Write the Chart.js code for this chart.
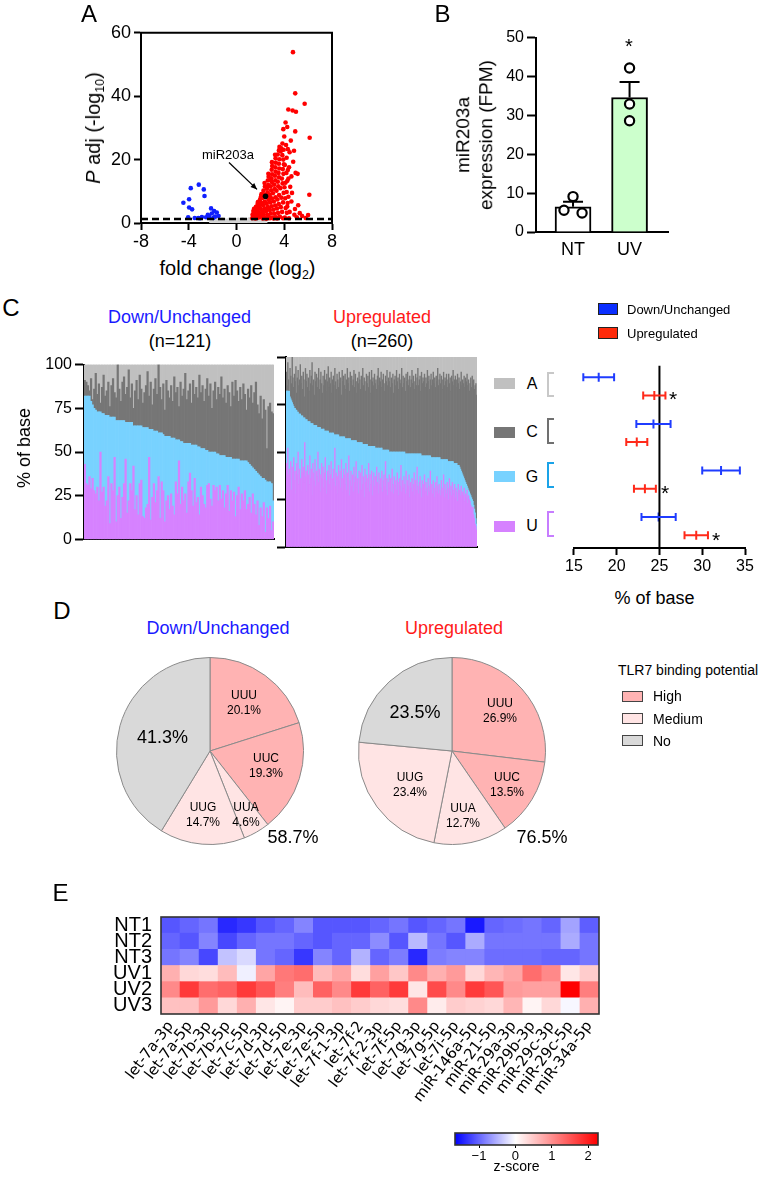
<!DOCTYPE html>
<html><head><meta charset="utf-8">
<script src="https://cdn.jsdelivr.net/npm/chart.js@4.4.1/dist/chart.umd.min.js"></script>
<style>
html,body{margin:0;padding:0;background:#fff;}
body{width:772px;height:1180px;position:relative;overflow:hidden;font-family:"Liberation Sans",Arial,sans-serif;color:#000;}
.sb{font-size:0.62em;position:relative;top:0.32em;}
</style></head><body>
<script>
// ---------------- DATA ----------------
// Panel A: volcano
const nsPts = [[-1.95,0.9],[-1.8,0.5],[-1.6,1.0],[-1.5,0.3],[-1.35,0.7],[-1.2,1.1],[-1.1,0.4],[-0.95,0.8],[-0.85,0.2],[-0.7,0.6],[-0.6,1.0],[-0.5,0.3],[-0.4,0.7],[-0.3,0.1],[-0.2,0.5],[-0.1,0.9],[0.0,0.3],[0.1,0.6],[0.2,0.2],[0.3,0.8],[0.4,0.4],[0.5,1.1],[0.6,0.2],[0.7,0.6],[0.8,0.9],[0.9,0.3],[1.0,0.7],[1.1,1.2],[1.2,0.4],[1.3,0.8],[1.4,0.2],[1.5,0.6],[1.6,1.0],[1.7,0.3],[1.8,0.7],[1.95,0.5],[2.1,0.9],[2.25,0.4],[-0.8,0.05],[0.35,0.05],[-1.7,0.15],[1.15,0.1],[-0.25,0.4],[0.75,0.3],[0.15,1.0],[-1.25,0.35],[2.4,0.2],[-2.1,0.3]];
const downPts = [[-4.45,6.4],[-3.83,11.0],[-3.16,12.1],[-2.74,10.6],[-2.68,8.5],[-3.97,7.5],[-3.97,4.9],[-3.72,4.3],[-4.05,1.8],[-3.2,1.6],[-2.13,4.6],[-1.87,3.75],[-2.07,3.0],[-1.65,3.3],[-1.5,2.2],[-2.55,1.8],[-3.5,1.6],[-2.9,1.9],[-2.3,2.0],[-1.95,1.6],[-2.4,2.6],[-1.8,2.0],[-3.05,1.5]];
const upPts = [[4.73,53.9],[4.92,40.9],[5.71,37.6],[4.34,35.8],[4.70,35.5],[4.98,35.1],[4.11,31.7],[4.25,30.3],[3.92,29.6],[4.92,28.9],[6.13,26.9],[4.0,27.3],[4.55,26.0],[3.85,25.1],[4.15,24.6],[3.6,24.0],[3.75,23.6],[4.3,23.3],[4.82,22.8],[4.45,22.3],[3.95,23.1],[3.55,22.9],[4.75,19.3],[5.12,15.5],[4.95,15.8],[6.1,8.9],[5.17,5.6],[6.0,2.5],[5.8,1.6],[5.5,2.2],[5.3,3.1],[4.9,4.4],[4.6,6.8],[4.35,8.3],[4.5,11.4],[4.6,14.7],[4.4,17.6],[4.2,20.6],[4.05,18.3],[4.65,9.5],[4.85,2.6],[5.05,1.8],[4.45,3.5],[4.25,5.2],[4.1,12.7],[4.35,14.0],
[1.32,1.5],[1.38,2.3],[1.45,3.0],[1.41,3.8],[1.48,1.9],[1.35,2.7],[1.47,4.5],
[1.52,1.6],[1.66,2.4],[1.58,3.3],[1.72,4.2],[1.63,5.1],[1.77,6.0],[1.55,2.0],[1.69,3.7],[1.75,4.8],[1.79,6.6],
[1.84,1.7],[1.97,2.5],[1.88,3.4],[2.03,4.4],[1.92,5.3],[2.07,6.3],[1.95,7.2],[2.05,8.3],[2.09,9.1],[1.82,2.9],[1.99,5.8],[2.01,7.7],
[2.13,1.8],[2.28,2.6],[2.19,3.6],[2.34,4.6],[2.24,5.7],[2.37,6.8],[2.16,7.9],[2.31,9.0],[2.26,10.2],[2.38,11.5],[2.35,12.6],[2.21,3.1],[2.29,8.5],[2.12,6.2],
[2.42,1.6],[2.58,2.7],[2.49,3.8],[2.63,5.0],[2.53,6.1],[2.68,7.3],[2.45,8.4],[2.6,9.6],[2.55,10.8],[2.66,12.0],[2.62,13.4],[2.69,14.6],[2.67,15.5],[2.51,4.4],[2.57,11.3],
[2.72,1.9],[2.88,3.0],[2.79,4.1],[2.94,5.3],[2.83,6.5],[2.97,7.7],[2.75,9.0],[2.9,10.3],[2.86,11.6],[2.96,12.9],[2.92,14.1],[2.98,15.4],[2.95,16.8],[2.99,18.0],[2.97,19.2],[2.81,8.3],[2.89,13.5],
[3.02,1.7],[3.18,2.9],[3.09,4.2],[3.24,5.5],[3.13,6.8],[3.27,8.1],[3.05,9.4],[3.2,10.7],[3.16,12.1],[3.26,13.5],[3.22,14.9],[3.28,16.2],[3.25,17.6],[3.29,19.0],[3.27,20.4],[3.23,21.5],
[3.32,1.8],[3.48,3.2],[3.39,4.6],[3.54,6.0],[3.43,7.4],[3.57,8.8],[3.35,10.2],[3.5,11.6],[3.46,13.0],[3.56,14.4],[3.52,15.8],[3.58,17.2],[3.55,18.7],[3.59,20.1],[3.45,21.6],
[3.63,2.0],[3.82,3.5],[3.71,5.0],[3.9,6.5],[3.76,8.0],[3.95,9.5],[3.67,11.0],[3.86,12.5],[3.8,14.0],[3.93,15.5],[3.88,17.0],[3.97,18.5],[3.92,20.0],[3.84,21.4],[3.7,22.6],
[4.05,1.7],[4.22,3.2],[4.12,4.7],[4.28,6.3],[4.08,7.8],[4.2,9.8],[4.02,11.3],[4.26,13.3],[4.18,15.8],[4.3,16.7],
[1.6,1.4],[2.2,1.4],[2.8,1.5],[3.4,1.4],[3.9,1.5],[4.4,1.5],[2.5,1.35],[3.1,1.45]];
const labelPt = [2.43, 8.4];      // miR203a
const padjCut = 1.3;              // -log10(0.05)
const arrowFrom = [-0.63, 19.1], arrowTo = [1.72, 10.6];

// Panel B
const groupsB = ['NT', 'UV'];
const meanB = [6.5, 34.6];
const semB = [1.3, 4.0];
const dotsB = [[9.1, 5.6, 4.9], [42.2, 32.9, 28.6]];

// Panel C: per-miRNA base composition (%)
const downU = [43,32,31,36,29,35,28,26,30,22,50,27,30,19,22,36,9,32,28,47,10,25,30,12,24,32,46,15,22,32,28,42,17,25,14,32,34,13,12,18,20,47,11,24,32,21,28,36,12,33,28,10,22,25,17,26,19,14,33,26,45,20,30,22,26,15,33,38,28,19,35,21,24,14,30,25,20,18,31,32,23,19,31,28,30,22,31,23,28,18,26,31,16,28,22,27,13,25,30,17,26,22,28,17,20,24,15,26,20,14,22,8,18,13,21,4,18,12,19,5,10];
const downG = [39,50,51,46,50,42,47,48,43,51,23,45,42,52,49,35,61,38,42,23,58,43,38,56,44,36,21,52,45,35,39,23,48,40,51,33,31,51,52,46,44,16,52,39,30,41,34,25,49,28,32,49,37,34,42,32,39,44,24,31,12,36,26,33,29,40,22,17,26,35,19,33,29,39,22,27,32,33,20,18,27,31,19,22,19,27,17,25,20,30,21,16,31,19,24,19,33,21,16,28,19,23,17,28,24,19,27,15,20,25,16,29,18,22,14,30,15,21,14,27,12];
const downC = [9,8,6,3,13,3,11,21,10,16,5,15,22,11,14,19,6,18,22,14,13,32,18,11,22,25,16,20,30,14,22,10,20,26,15,29,21,14,20,24,32,19,27,14,24,30,21,39,26,19,29,15,32,26,22,30,21,35,27,30,19,34,26,31,40,25,30,34,24,37,29,33,28,41,32,36,27,35,41,32,39,25,35,40,31,38,35,45,33,38,31,41,37,29,44,36,45,39,33,42,35,44,38,29,42,38,46,37,44,51,39,35,46,34,45,40,19,43,45,41,50];
const downA = [9,10,12,15,8,20,14,5,17,11,22,13,6,18,15,10,24,12,8,16,19,0,14,21,10,7,17,13,3,19,11,25,15,9,20,6,14,22,16,12,4,18,10,23,14,8,17,0,13,20,11,26,9,15,19,12,21,7,16,13,24,10,18,14,5,20,15,11,22,9,17,13,19,6,16,12,21,14,8,18,11,25,15,10,20,13,17,7,19,14,22,12,16,24,10,18,9,15,21,13,20,11,17,26,14,19,12,22,16,10,23,28,18,31,20,26,48,24,22,27,28];

const upU = [44,40,52,38,41,36,45,30,42,39,47,35,40,28,44,38,50,33,41,36,30,46,39,42,34,55,37,40,29,43,38,33,48,36,41,27,44,39,35,46,32,40,37,50,34,41,29,38,44,36,42,31,39,47,35,28,40,37,43,33,38,45,30,36,41,34,52,32,39,28,37,43,35,40,31,46,36,29,41,38,33,44,30,39,36,48,27,35,40,32,38,29,42,34,37,45,31,36,28,40,35,39,30,43,33,37,26,41,34,38,31,36,44,29,38,33,40,27,35,39,32,37,30,42,34,28,39,33,36,31,40,29,35,38,32,45,30,36,27,34,38,31,36,29,41,33,28,37,32,35,30,39,34,27,36,32,43,29,35,31,37,33,28,40,30,35,32,38,26,34,31,36,29,33,39,27,35,30,42,32,28,34,37,31,26,35,30,33,38,29,34,31,27,36,32,29,40,30,33,28,35,31,26,34,29,37,32,28,33,30,27,35,31,29,38,26,33,30,28,34,31,25,36,29,32,27,34,30,28,33,26,31,29,24,33,28,30,27,32,25,29,27,31,24,28,26,30,23,27,25,24,22,21,19,21,17,15,12,11,9];
const upG = [38,42,30,44,41,43,33,47,34,36,27,38,33,44,28,33,21,37,29,34,39,23,30,26,34,13,30,27,38,23,28,33,18,29,24,38,21,25,29,18,32,24,26,13,29,22,34,24,18,26,20,31,22,14,26,33,21,24,17,27,22,15,30,24,19,25,7,27,20,31,22,16,23,18,27,12,22,29,17,20,24,13,27,18,21,9,30,22,16,24,18,27,14,22,19,11,24,19,27,15,20,16,25,12,21,17,28,13,20,16,23,17,9,24,15,20,13,26,18,14,21,15,22,10,18,24,13,19,16,21,12,22,16,13,19,6,21,15,24,17,12,19,14,21,9,17,22,13,18,15,20,11,16,23,14,18,7,21,15,19,13,17,21,9,19,14,17,11,23,15,18,13,20,16,10,22,14,19,7,17,21,15,12,18,22,13,18,15,10,19,14,17,21,12,16,19,8,17,14,19,12,16,21,13,18,10,15,19,14,17,19,11,15,17,8,20,13,16,18,12,14,20,9,16,13,18,11,15,16,11,18,13,15,19,10,15,12,14,8,14,9,10,5,11,6,7,2,8,3,4,4,5,5,6,3,5,5,6,4,3];
const upC = [10,3,15,6,0,15,12,9,24,14,10,18,14,23,9,18,22,15,18,26,17,21,14,24,20,11,27,20,24,18,23,16,27,21,25,32,20,24,16,28,23,27,21,26,31,20,25,30,24,19,28,23,32,27,21,30,26,34,24,29,26,32,21,28,30,26,35,28,24,32,29,25,34,28,31,22,35,29,32,27,34,26,31,37,29,32,25,35,31,34,29,32,37,28,35,31,26,34,31,37,33,28,35,31,40,31,35,33,28,37,32,37,31,39,35,28,40,34,36,32,38,34,36,31,38,42,33,37,35,40,32,37,40,35,31,39,36,42,34,38,37,42,34,39,36,41,31,38,40,35,43,37,39,33,41,36,38,44,34,40,36,39,33,42,38,43,36,39,41,35,39,44,37,41,34,38,42,36,40,45,36,39,41,33,44,38,41,39,43,36,41,38,45,39,42,35,40,44,38,41,45,39,42,37,43,40,47,38,41,44,40,44,37,42,46,39,43,41,45,38,43,46,41,44,37,45,42,48,41,44,46,40,44,48,43,46,41,46,52,46,50,49,54,49,55,54,59,54,58,53,58,62,58,65,63,66,63,67,71,68];
const upA = [8,15,3,12,18,6,10,14,0,11,16,9,13,5,19,11,7,15,12,4,14,10,17,8,12,21,6,13,9,16,11,18,7,14,10,3,15,12,20,8,13,9,16,11,6,17,12,8,14,19,10,15,7,12,18,9,13,5,16,11,14,8,19,12,10,15,6,13,17,9,12,16,8,14,11,20,7,13,10,15,9,17,12,6,14,11,18,8,13,10,15,12,7,16,9,13,19,11,14,8,12,17,10,14,6,15,11,13,18,9,14,10,16,8,12,19,7,13,11,15,9,14,12,17,10,6,15,11,13,8,16,12,9,14,18,10,13,7,15,11,13,8,16,11,14,9,19,12,10,15,7,13,11,17,9,14,12,6,16,10,14,11,18,9,13,8,15,12,10,16,12,7,14,10,17,13,9,15,11,6,15,12,10,18,8,14,11,13,9,16,11,14,7,13,10,17,12,9,15,12,8,14,11,16,10,13,6,15,12,9,14,10,17,12,8,15,11,13,9,16,12,9,14,11,18,10,13,7,15,12,10,16,12,9,14,11,17,13,8,15,12,14,10,16,11,13,9,15,12,18,14,11,16,10,13,12,17,15,14,20];

// Panel C right: mean base content (%) with error
const bases = ['A', 'C', 'G', 'U'];
const downMean = [17.9, 24.3, 32.2, 24.9];
const downErr  = [1.8, 2.0, 2.2, 2.0];
const upMean   = [24.4, 22.35, 23.3, 29.3];
const upErr    = [1.3, 1.23, 1.28, 1.37];

// Panel D: pies
const pieLabels = ['UUU', 'UUC', 'UUA', 'UUG', 'No'];
const pieClass  = ['High', 'High', 'Medium', 'Medium', 'No'];
const downPie = [20.1, 19.3, 4.6, 14.7, 41.3];
const upPie   = [26.9, 13.5, 12.7, 23.4, 23.5];
const downTLR = 58.7, upTLR = 76.5;

// Panel E: heatmap z-scores
const mirnas = ['let-7a-3p','let-7a-5p','let-7b-3p','let-7b-5p','let-7c-5p','let-7d-3p','let-7d-5p','let-7e-3p','let-7e-5p','let-7f-1-3p','let-7f-2','let-7f-2-3p','let-7f-5p','let-7g-3p','let-7g-5p','let-7i-5p','miR-146a-5p','miR-21-5p','miR-29a-3p','miR-29b-3p','miR-29c-3p','miR-29c-5p','miR-34a-5p'];
const rowNames = ['NT1','NT2','NT3','UV1','UV2','UV3'];
const zNT1 = [-1.1,-1.0,-0.9,-1.4,-1.3,-1.1,-1.0,-0.8,-1.1,-1.1,-1.1,-1.0,-0.9,-1.1,-1.0,-0.9,-1.5,-1.0,-0.95,-0.9,-1.0,-0.6,-1.05];
const zNT2 = [-1.0,-1.1,-0.8,-1.2,-1.0,-0.9,-0.9,-1.0,-1.1,-1.0,-1.0,-0.75,-1.1,-0.45,-0.9,-1.1,-0.55,-0.9,-0.9,-0.9,-0.9,-0.55,-0.9];
const zNT3 = [-0.9,-0.8,-1.2,-0.4,-0.25,-0.9,-1.0,-1.3,-0.8,-1.0,-0.5,-1.0,-0.85,-1.4,-0.85,-0.8,-0.8,-0.95,-0.95,-0.95,-1.0,-1.0,-0.9];
const zUV1 = [0.7,0.35,0.3,0.6,-0.1,0.8,1.2,1.3,0.6,0.8,0.3,0.85,0.5,1.05,0.7,0.9,0.35,0.65,0.8,1.3,1.05,0.22,0.45];
const zUV2 = [1.05,1.75,1.3,1.4,1.75,1.5,1.15,0.6,1.4,1.05,1.75,1.4,1.75,0.22,1.6,1.05,1.75,1.5,0.9,0.85,0.85,2.27,1.15];
const zUV3 = [0.55,0.55,0.9,0.35,0.7,0.22,0.1,0.45,0.45,0.55,0.45,0.35,0.3,1.05,0.17,0.45,0.4,0.35,0.65,0.1,0.35,-0.05,0.7];
const zLo = -1.66, zHi = 2.27;
const zTicks = [-1, 0, 1, 2];

// ---------------- HELPERS ----------------
Chart.defaults.font.family = '"Liberation Sans", Arial, sans-serif';
Chart.defaults.color = '#000';
Chart.defaults.animation = false;
Chart.defaults.events = [];
Chart.defaults.plugins.legend.display = false;
Chart.defaults.plugins.tooltip.enabled = false;

function mk(plot, m, cfg) {
  const W = plot.r - plot.l + m.l + m.r, H = plot.b - plot.t + m.t + m.b;
  const d = document.createElement('div');
  d.style.cssText = `position:absolute;left:${plot.l - m.l}px;top:${plot.t - m.t}px;width:${W}px;height:${H}px;`;
  const cv = document.createElement('canvas');
  cv.width = W; cv.height = H; cv.style.width = W + 'px'; cv.style.height = H + 'px';
  d.appendChild(cv); document.body.appendChild(d);
  cfg.options = cfg.options || {};
  Object.assign(cfg.options, {responsive: false, maintainAspectRatio: false, devicePixelRatio: 1});
  cfg.options.layout = {padding: {left: m.padL || 0, top: m.t, right: m.r, bottom: m.padB || 0}};
  return new Chart(cv, cfg);
}
function T(html, x, y, o = {}) {
  const d = document.createElement('div');
  d.innerHTML = html;
  const tx = o.align === 'left' ? '0' : (o.align === 'right' ? '-100%' : '-50%');
  d.style.cssText = `position:absolute;left:${x}px;top:${y}px;transform:translate(${tx},-50%)${o.rot ? ` rotate(${o.rot}deg)` : ''};font-size:${o.size || 16}px;white-space:nowrap;line-height:${o.lh || 1};color:${o.color || '#000'};text-align:center;font-weight:${o.bold ? 'bold' : 'normal'};`;
  document.body.appendChild(d);
}
function R(x, y, w, h, css) {
  const d = document.createElement('div');
  d.style.cssText = `position:absolute;left:${x}px;top:${y}px;width:${w}px;height:${h}px;box-sizing:border-box;${css}`;
  document.body.appendChild(d);
}
function yAx(w, o) {
  return Object.assign({
    afterFit: s => { s.width = w; },
    border: {display: true, color: '#000', width: 2},
    grid: {display: true, drawOnChartArea: false, drawTicks: true, tickLength: 8, tickWidth: 2, tickColor: '#000'},
    ticks: {color: '#000', font: {size: 16}, padding: 3}
  }, o);
}
function xAx(h, o) {
  return Object.assign({
    afterFit: s => { s.height = h; },
    border: {display: true, color: '#000', width: 2},
    grid: {display: true, drawOnChartArea: false, drawTicks: true, tickLength: 7, tickWidth: 2, tickColor: '#000'},
    ticks: {color: '#000', font: {size: 16}, padding: 2}
  }, o);
}
const pts = a => a.map(p => ({x: p[0], y: p[1]}));

// ---------------- PANEL A ----------------
const frameTR = {id: 'frameTR', afterDraw(c) {
  const {left, right, top, bottom} = c.chartArea, x = c.ctx;
  x.save(); x.strokeStyle = '#000'; x.lineWidth = 2; x.beginPath();
  x.moveTo(left - 1, top); x.lineTo(right, top); x.lineTo(right, bottom + 1); x.stroke(); x.restore();
}};
const arrowA = {id: 'arrowA', afterDatasetsDraw(c) {
  const xs = c.scales.x, ys = c.scales.y, ctx = c.ctx;
  const x0 = xs.getPixelForValue(arrowFrom[0]), y0 = ys.getPixelForValue(arrowFrom[1]);
  const x1 = xs.getPixelForValue(arrowTo[0]), y1 = ys.getPixelForValue(arrowTo[1]);
  ctx.save(); ctx.strokeStyle = '#000'; ctx.fillStyle = '#000'; ctx.lineWidth = 1.2;
  ctx.beginPath(); ctx.moveTo(x0, y0); ctx.lineTo(x1, y1); ctx.stroke();
  const a = Math.atan2(y1 - y0, x1 - x0), L = 7;
  ctx.beginPath(); ctx.moveTo(x1, y1);
  ctx.lineTo(x1 - L * Math.cos(a - 0.4), y1 - L * Math.sin(a - 0.4));
  ctx.lineTo(x1 - L * Math.cos(a + 0.4), y1 - L * Math.sin(a + 0.4));
  ctx.closePath(); ctx.fill(); ctx.restore();
}};
mk({l: 141, r: 332, t: 31, b: 223}, {l: 60, t: 12, r: 15, b: 32}, {
  type: 'scatter',
  data: {datasets: [
    {type: 'line', data: [{x: -8, y: padjCut}, {x: 8, y: padjCut}], borderColor: '#000', borderWidth: 2.5, borderDash: [7, 4], pointRadius: 0, order: 0},
    {data: [{x: labelPt[0], y: labelPt[1]}], pointRadius: 2.8, pointBackgroundColor: '#000', backgroundColor: '#000', pointBorderWidth: 0, order: 1},
    {data: pts(upPts), pointRadius: 2.3, pointBackgroundColor: '#ff0000', backgroundColor: '#ff0000', pointBorderWidth: 0, order: 2},
    {data: pts(downPts), pointRadius: 2.3, pointBackgroundColor: '#1020ff', backgroundColor: '#1020ff', pointBorderWidth: 0, order: 3},
    {data: pts(nsPts), pointRadius: 2.3, pointBackgroundColor: '#d4d4d4', backgroundColor: '#d4d4d4', pointBorderWidth: 0, order: 4}
  ]},
  options: {scales: {
    x: xAx(32, {type: 'linear', min: -8, max: 8, ticks: {stepSize: 4, font: {size: 18}, padding: 1, color: '#000'}}),
    y: yAx(60, {min: 0, max: 60, ticks: {stepSize: 20, font: {size: 18}, padding: 3, color: '#000'}, grid: {drawOnChartArea: false, tickLength: 7, tickWidth: 2, tickColor: '#000'}})
  }},
  plugins: [frameTR, arrowA]
});

// ---------------- PANEL B ----------------
const errB = {id: 'errB', afterDatasetDraw(c, args) {
  if (args.index !== 0) return;
  const xs = c.scales.x, ys = c.scales.y, ctx = c.ctx;
  ctx.save(); ctx.strokeStyle = '#000'; ctx.lineWidth = 2;
  meanB.forEach((m, i) => {
    const px = xs.getPixelForValue(i + 1), y0 = ys.getPixelForValue(m), y1 = ys.getPixelForValue(m + semB[i]);
    ctx.beginPath(); ctx.moveTo(px, y0); ctx.lineTo(px, y1); ctx.moveTo(px - 10, y1); ctx.lineTo(px + 10, y1); ctx.stroke();
  });
  ctx.restore();
}};
const jitterB = [[0, -0.16, 0.16], [0, 0, 0]];
mk({l: 536, r: 668, t: 35, b: 232}, {l: 50, t: 10, r: 10, b: 30}, {
  type: 'bar',
  data: {datasets: [
    {type: 'bar', data: meanB.map((m, i) => ({x: i + 1, y: m})), backgroundColor: ['#ffffff', '#ccffcc'], borderColor: '#000', borderWidth: 2, barThickness: 36, order: 2},
    {type: 'scatter', data: dotsB.flatMap((arr, i) => arr.map((v, k) => ({x: i + 1 + jitterB[i][k], y: v}))), pointRadius: 4.6, pointBorderWidth: 2.2, pointBorderColor: '#000', pointBackgroundColor: '#fff', order: 0}
  ]},
  options: {scales: {
    x: xAx(30, {type: 'linear', offset: false, bounds: 'data', min: 0.345, max: 2.68, afterBuildTicks: s => { s.ticks = groupsB.map((g, i) => ({value: i + 1})); },
      grid: {display: false, drawTicks: false, offset: false}, ticks: {font: {size: 18}, padding: 7, color: '#000', callback: v => groupsB[v - 1]}}),
    y: yAx(50, {min: 0, max: 50, ticks: {stepSize: 10, font: {size: 16}, padding: 3, color: '#000'}, grid: {drawOnChartArea: false, tickLength: 9, tickWidth: 2, tickColor: '#000'}})
  }},
  plugins: [errB]
});

// ---------------- PANEL C stacked ----------------
const baseColors = {A: '#c0c0c0', C: '#767676', G: '#78d2ff', U: '#d682ff'};
function stackCfg(U, G, C, A, showLabels) {
  const labels = U.map((_, i) => i + 1);
  const ds = (d, col) => ({data: d, backgroundColor: col, borderWidth: 0, barPercentage: 1, categoryPercentage: 1});
  return {
    type: 'bar',
    data: {labels, datasets: [ds(U, baseColors.U), ds(G, baseColors.G), ds(C, baseColors.C), ds(A, baseColors.A)]},
    options: {scales: {
      x: {stacked: true, afterFit: s => { s.height = 5; }, border: {display: true, color: '#000', width: 2}, grid: {display: false, drawTicks: false}, ticks: {display: false}},
      y: yAx(showLabels ? 60 : 10, {stacked: true, min: 0, max: 100, ticks: {stepSize: 25, display: showLabels, font: {size: 16}, padding: 3, color: '#000'}, grid: {drawOnChartArea: false, tickLength: 9, tickWidth: 2, tickColor: '#000'}})
    }}
  };
}
mk({l: 84, r: 274, t: 357, b: 547}, {l: 60, t: 5, r: 1, b: 5}, stackCfg(downU, downG, downC, downA, true));
mk({l: 286, r: 477, t: 357, b: 547}, {l: 10, t: 5, r: 1, b: 5}, stackCfg(upU, upG, upC, upA, false));

// ---------------- PANEL C error bars ----------------
const dodge = 0.195;
const errC = {id: 'errC', afterDatasetsDraw(c) {
  const xs = c.scales.x, ctx = c.ctx;
  c.data.datasets.forEach((ds, di) => {
    if (!ds.err) return;
    const meta = c.getDatasetMeta(di);
    ctx.save(); ctx.strokeStyle = ds.pointBorderColor; ctx.lineWidth = 2;
    meta.data.forEach((pt, j) => {
      const v = ds.data[j].x, e = ds.err[j];
      const xl = xs.getPixelForValue(v - e), xh = xs.getPixelForValue(v + e), y = pt.y;
      ctx.beginPath(); ctx.moveTo(xl, y); ctx.lineTo(xh, y);
      ctx.moveTo(xl, y - 4); ctx.lineTo(xl, y + 4); ctx.moveTo(xh, y - 4); ctx.lineTo(xh, y + 4); ctx.stroke();
    });
    ctx.restore();
  });
}};
mk({l: 563, r: 745, t: 364, b: 548}, {l: 0, t: 5, r: 20, b: 30, padL: 10}, {
  type: 'scatter',
  data: {datasets: [
    {type: 'line', data: [{x: 25, y: -0.45}, {x: 25, y: 3.47}], borderColor: '#000', borderWidth: 2, pointRadius: 0},
    {data: bases.map((b, i) => ({x: downMean[i], y: i - dodge})), err: downErr, pointStyle: 'line', pointRotation: 90, pointRadius: 4.5, pointBorderWidth: 2, pointBorderColor: '#1f3cff'},
    {data: bases.map((b, i) => ({x: upMean[i], y: i + dodge})), err: upErr, pointStyle: 'line', pointRotation: 90, pointRadius: 4.5, pointBorderWidth: 2, pointBorderColor: '#ff2a1a'}
  ]},
  options: {scales: {
    x: xAx(30, {type: 'linear', min: 15, max: 35, ticks: {stepSize: 5, font: {size: 16}, padding: 2, color: '#000'}}),
    y: {type: 'linear', min: -0.45, max: 3.47, reverse: true, display: false}
  }},
  plugins: [errC]
});

// ---------------- PANEL D pies ----------------
const classColor = {High: '#ffb3b3', Medium: '#ffe4e4', No: '#d9d9d9'};
function pie(cx, cy, vals) {
  const S = 188;
  mk({l: cx - S / 2, r: cx + S / 2, t: cy - S / 2, b: cy + S / 2}, {l: 0, t: 0, r: 0, b: 0}, {
    type: 'pie',
    data: {labels: pieLabels, datasets: [{data: vals, backgroundColor: pieClass.map(k => classColor[k]), borderColor: '#8a8a8a', borderWidth: 1, hoverOffset: 0}]},
    options: {}
  });
}
pie(210, 751, downPie);
pie(452, 751, upPie);

// ---------------- PANEL E heatmap ----------------
function zColor(z) {
  if (z >= 0) { const t = Math.min(1, z / zHi), v = Math.round(255 * (1 - t)); return `rgb(255,${v},${v})`; }
  const t = Math.min(1, z / zLo), v = Math.round(255 * (1 - t)); return `rgb(${v},${v},255)`;
}
const zRows = [zNT1, zNT2, zNT3, zUV1, zUV2, zUV3];
const frameAll = {id: 'frameAll', afterDraw(c) {
  const {left, right, top, bottom} = c.chartArea, x = c.ctx;
  x.save(); x.strokeStyle = '#333'; x.lineWidth = 1.6; x.strokeRect(left, top, right - left, bottom - top); x.restore();
}};
mk({l: 161, r: 599, t: 900, b: 1014}, {l: 110, t: 4, r: 20, b: 120}, {
  type: 'bar',
  data: {labels: mirnas, datasets: zRows.slice().reverse().map(row => ({
    data: mirnas.map(() => 1), backgroundColor: row.map(zColor), borderWidth: 0, barPercentage: 1, categoryPercentage: 1
  }))},
  options: {scales: {
    x: {stacked: true, afterFit: s => { s.height = 120; }, border: {display: false}, grid: {display: false, drawTicks: false},
      ticks: {autoSkip: false, minRotation: 53, maxRotation: 53, padding: 4, color: '#000', font: {family: '"DejaVu Sans", Verdana, sans-serif', size: 15}}},
    y: {stacked: true, min: 0, max: 6, afterFit: s => { s.width = 110; }, border: {display: false}, grid: {display: false, drawTicks: false},
      afterBuildTicks: s => { s.ticks = rowNames.map((n, i) => ({value: rowNames.length - 0.5 - i})); },
      ticks: {autoSkip: false, padding: 9, color: '#000', font: {size: 20}, callback: v => rowNames[Math.round(rowNames.length - 0.5 - v)]}}
  }},
  plugins: [frameAll]
});

// colour bar
mk({l: 435, r: 598, t: 1133, b: 1145}, {l: 0, t: 4, r: 20, b: 30, padL: 20}, {
  type: 'bar',
  data: {labels: ['z'], datasets: [{data: [[zLo, zHi]], borderWidth: 0, barPercentage: 1, categoryPercentage: 1,
    backgroundColor: ctx => {
      const ch = ctx.chart; if (!ch.chartArea) return '#fff';
      const xs = ch.scales.x; const g = ch.ctx.createLinearGradient(xs.getPixelForValue(zLo), 0, xs.getPixelForValue(zHi), 0);
      for (let k = 0; k <= 40; k++) { const z = zLo + (zHi - zLo) * k / 40; g.addColorStop(k / 40, zColor(z)); }
      return g;
    }}]},
  options: {indexAxis: 'y', scales: {
    x: {type: 'linear', min: zLo, max: zHi, afterBuildTicks: s => { s.ticks = zTicks.map(v => ({value: v})); }, afterFit: s => { s.height = 30; },
      border: {display: false}, grid: {display: true, drawOnChartArea: false, drawTicks: true, tickLength: 3, tickColor: '#000', tickWidth: 1},
      ticks: {font: {size: 13}, padding: 1, color: '#000', callback: v => (v < 0 ? '\u2212' + Math.abs(v) : String(v))}},
    y: {display: false}
  }},
  plugins: [frameAll]
});

// ---------------- TEXT & DECORATIONS ----------------
T('A', 89, 13.5, {size: 24}); T('B', 442.5, 13.5, {size: 24}); T('C', 11, 308, {size: 24});
T('D', 62, 611, {size: 24}); T('E', 60.5, 893, {size: 24});
// A
T('<i>P</i> adj (-log<span class="sb">10</span>)', 93, 127.5, {size: 20, rot: -90});
T('fold change (log<span class="sb">2</span>)', 237.5, 268, {size: 20});
T('miR203a', 202, 154, {size: 13, align: 'left'});
// B
T('miR203a<br>expression (FPM)', 475, 135, {size: 19, rot: -90, lh: 1.2});
T('*', 629, 46, {size: 20});
// C
T('Down/Unchanged', 179.5, 317, {size: 18, color: '#1a1aff'});
T('(n=121)', 180, 341, {size: 18});
T('Upregulated', 382, 317, {size: 18, color: '#ff1a1a'});
T('(n=260)', 382, 341, {size: 18});
T('% of base', 23.5, 447.5, {size: 18, rot: -90});
T('% of base', 654.5, 598, {size: 18});
R(598, 303, 20, 12, 'background:#0a2eff;border:1px solid #222;');
R(598, 327, 20, 12, 'background:#ff2a0a;border:1px solid #222;');
T('Down/Unchanged', 627, 309, {size: 13, align: 'left'});
T('Upregulated', 627, 333, {size: 13, align: 'left'});
const baseY = [383.5, 432, 476.5, 526];
const brY = [[372, 397], [418, 444], [462, 488], [511, 537]];
const brCol = {A: '#c8c8c8', C: '#707070', G: '#1aa3e8', U: '#c77dff'};
bases.forEach((b, i) => {
  R(494, baseY[i] - 5.5, 21, 11, `background:${baseColors[b]};`);
  T(b, 532, baseY[i], {size: 16});
  R(547, brY[i][0], 7, brY[i][1] - brY[i][0], `border:2px solid ${brCol[b]};border-right:none;`);
});
T('*', 673, 398, {size: 21}); T('*', 665, 492, {size: 21}); T('*', 716, 539, {size: 21});
// D
T('Down/Unchanged', 218, 628, {size: 18, color: '#1a1aff'});
T('Upregulated', 454, 628, {size: 18, color: '#ff1a1a'});
const downLabPos = [[244, 702.5], [266, 765.5], [246, 815], [203, 815]];
const upLabPos = [[500, 710.5], [507, 784.5], [463, 816], [410, 785]];
[0, 1, 2, 3].forEach(i => {
  T(`${pieLabels[i]}<br>${downPie[i]}%`, downLabPos[i][0], downLabPos[i][1], {size: 12, lh: 1.25});
  T(`${pieLabels[i]}<br>${upPie[i]}%`, upLabPos[i][0], upLabPos[i][1], {size: 12, lh: 1.25});
});
T(`${downPie[4]}%`, 162.6, 737, {size: 18});
T(`${upPie[4]}%`, 415, 712, {size: 18});
T(`${downTLR}%`, 293, 837, {size: 18});
T(`${upTLR}%`, 542, 837, {size: 18});
T('TLR7 binding potential', 618, 670, {size: 14, align: 'left'});
[['High', 696], ['Medium', 718.5], ['No', 740.5]].forEach(([k, y]) => {
  R(622, y - 5.5, 21, 11, `background:${classColor[k]};border:1.5px solid #444;`);
  T(k, 653, y, {size: 14, align: 'left'});
});
T('z-score', 516.5, 1166, {size: 14});
</script>
</body></html>
